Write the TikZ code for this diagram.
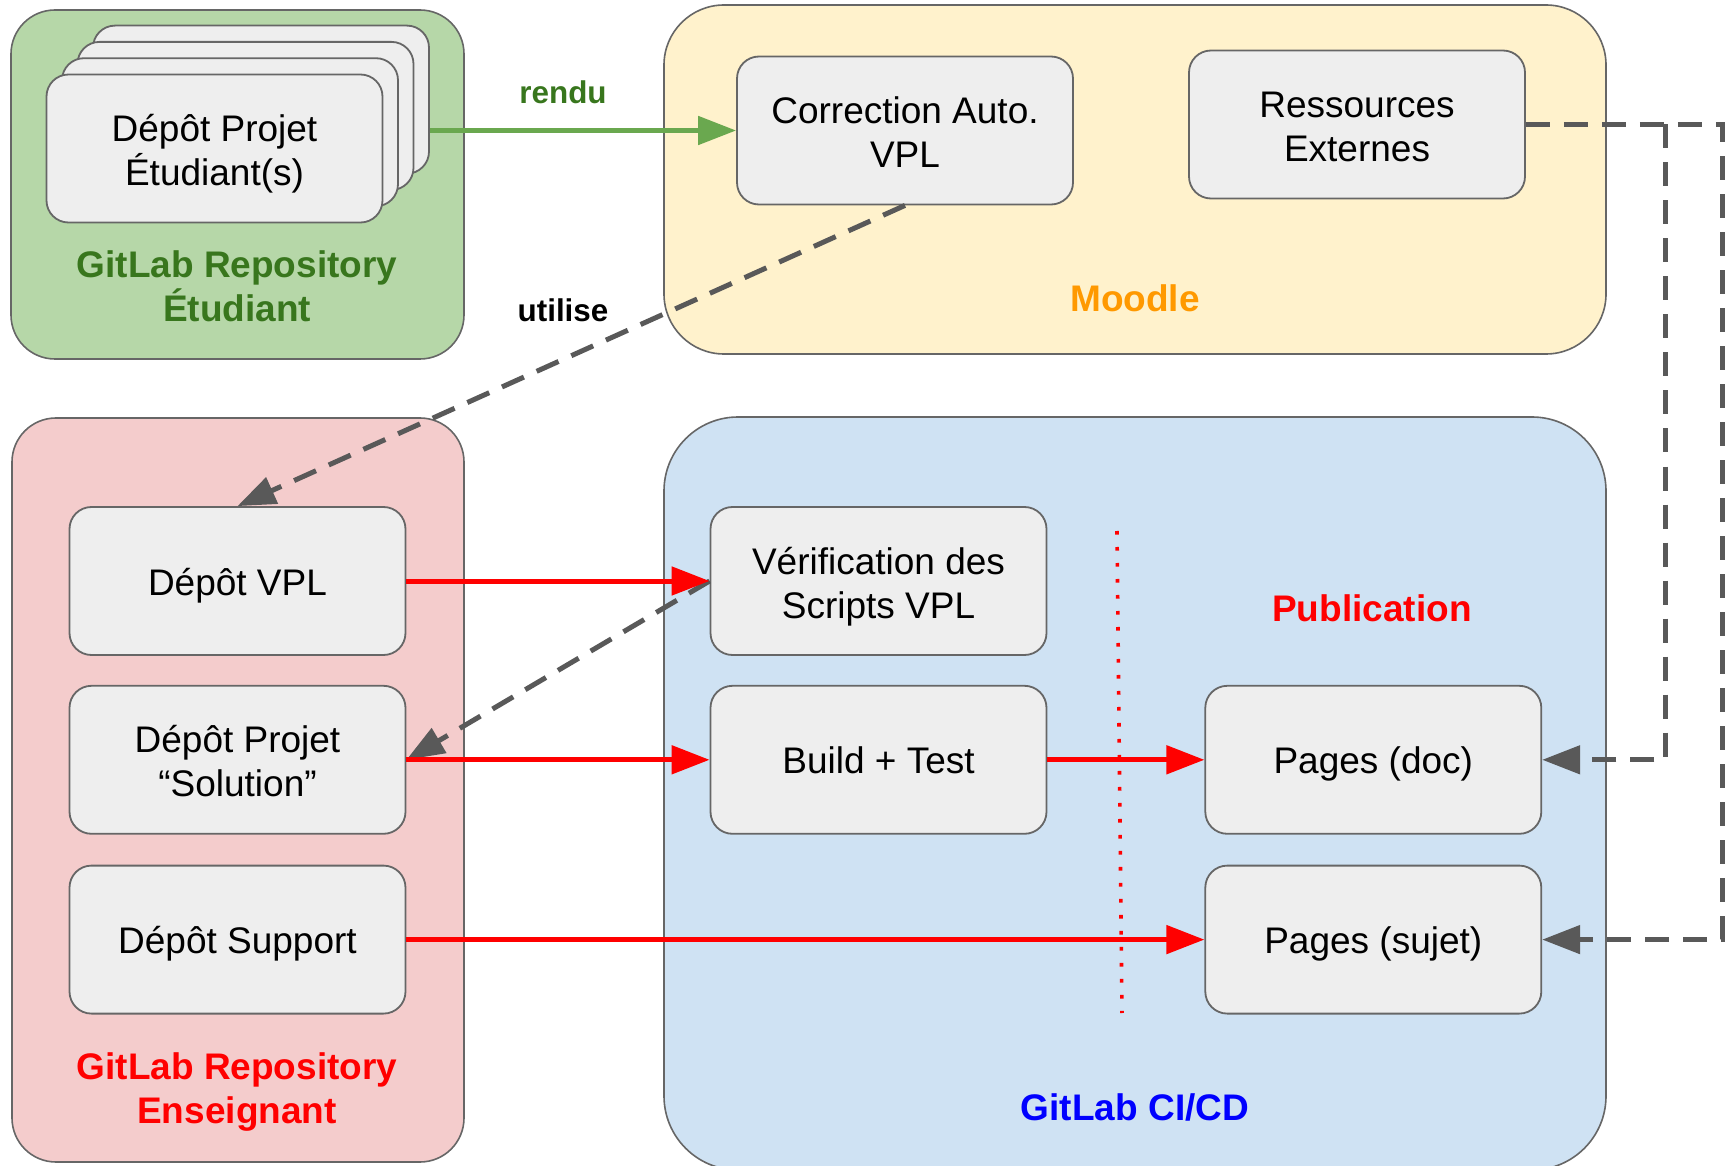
\documentclass[tikz,border=0pt]{standalone}
\usepackage{fontspec}
\setmainfont{Liberation Sans}
\usetikzlibrary{arrows.meta,positioning}

\definecolor{boxfill}{HTML}{EEEEEE}
\definecolor{boxline}{HTML}{666666}
\definecolor{linkgray}{HTML}{595959}
\definecolor{studfill}{HTML}{B6D7A8}
\definecolor{studtext}{HTML}{38761D}
\definecolor{rendugreen}{HTML}{6AA84F}
\definecolor{moodfill}{HTML}{FFF2CC}
\definecolor{moodtext}{HTML}{FF9900}
\definecolor{ensfill}{HTML}{F4CCCC}
\definecolor{cifill}{HTML}{CFE2F3}

\tikzset{
  zone/.style={draw=boxline, line width=0.8pt, inner sep=0pt},
  box/.style={draw=boxline, fill=boxfill, line width=0.9pt, rounded corners=11pt,
    minimum width=168pt, minimum height=74pt, inner sep=0pt, align=center,
    font=\fontsize{18.5}{22}\selectfont,
    execute at begin node={\rule{0pt}{#1}},
    execute at end node={\rule[-4pt]{0pt}{4pt}}},
  box/.default=18pt,
  title/.style={align=center, font=\fontsize{18.5}{22}\selectfont\bfseries},
  flow/.style={red, line width=2.5pt, -{Triangle[length=19pt,width=14pt]}},
  uses/.style={linkgray, line width=2.5pt, dash pattern=on 12pt off 7pt,
    -{Triangle[length=19pt,width=14pt]}},
}

\begin{document}
\begin{tikzpicture}[x=0.5pt, y=-0.5pt]

  \useasboundingbox (0,0) rectangle (1731,1166);

  \node (stud) [zone, fill=studfill, rounded corners=22pt, minimum width=226.5pt, minimum height=174.5pt] at (237.5,184.5) {};
  \node (moodle) [zone, fill=moodfill, rounded corners=30pt, minimum width=471pt, minimum height=174.5pt] at (1135,179.5) {};
  \node (ens) [zone, fill=ensfill, rounded corners=22pt, minimum width=226pt, minimum height=372pt] at (238,790) {};
  \node (cicd) [zone, fill=cifill, rounded corners=37pt, minimum width=471pt, minimum height=376.5pt] at (1135,793.5) {};

  \foreach \i in {3,2,1} {
    \node (card\i) [box] at ({214.5+15.5*\i},{148.5-16.3*\i}) {};
  }
  \node (dpe) [box=41pt] at (214.5,148.5) {Dépôt Projet\\Étudiant(s)};
  \node (studlbl) [title, text=studtext] at (237,286) {GitLab Repository\\Étudiant};

  \node (corr) [box=41pt] at (905,130.5) {Correction Auto.\\VPL};
  \node (res) [box=41pt] at (1357,124.5) {Ressources\\Externes};
  \node (moodlbl) [title, text=moodtext] at (1135,298) {Moodle};

  \node (dvpl) [box] at (237.5,581) {Dépôt VPL};
  \node (sol) [box=41pt, below=14.5pt of dvpl] {Dépôt Projet\\“Solution”};
  \node (sup) [box, below=15pt of sol] {Dépôt Support};
  \node (enslbl) [title, text=red] at (237,1092) {GitLab Repository\\Enseignant};

  \node (verif) [box=41pt] at (878.5,581) {Vérification des\\Scripts VPL};
  \node (build) [box, below=14.5pt of verif] {Build + Test};
  \node (pdoc) [box, right=78.5pt of build] {Pages (doc)};
  \node (psujet) [box, below=15pt of pdoc] {Pages (sujet)};
  \node (publbl) [title, text=red] at (1372,608) {Publication};
  \node (cilbl) [title, text=blue] at (1135,1107) {GitLab CI/CD};

  \draw [red, line width=1.8pt, dash pattern=on 1.8pt off 6.2pt] (1117,531) -- (1122,1013);

  \draw [rendugreen, line width=2.5pt, -{Triangle[length=19pt,width=14pt]}] (card3.east |- corr.west) -- (corr.west);
  \node (rendu) [title, font=\fontsize{15.7}{19}\selectfont\bfseries, text=studtext] at (563,92) {rendu};

  \draw [uses] (corr.south) -- (dvpl.north);
  \node (utilise) [title, font=\fontsize{15.7}{19}\selectfont\bfseries] at (563,310) {utilise};
  \draw [uses] (verif.west) -- (sol.east);

  \draw [flow] (dvpl.east) -- (verif.west);
  \draw [flow] (sol.east) -- (build.west);
  \draw [flow] (build.east) -- (pdoc.west);
  \draw [flow] (sup.east) -- (psujet.west);

  \coordinate (far) at (1722,0);
  \coordinate (mid) at (1665,0);
  \draw [uses] (res.east) -| (far |- psujet.east) -- (psujet.east);
  \draw [uses] (res.east -| mid) |- (pdoc.east);

\end{tikzpicture}
\end{document}
